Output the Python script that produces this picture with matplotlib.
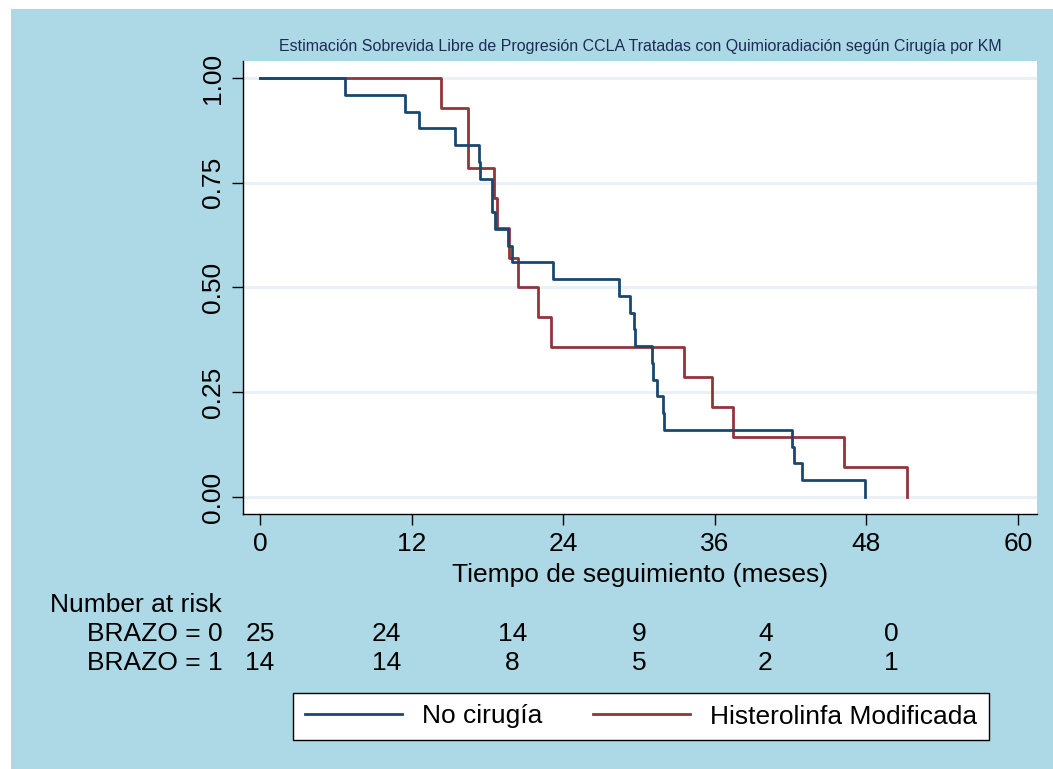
import matplotlib.pyplot as plt
from matplotlib.patches import Rectangle
from matplotlib.transforms import blended_transform_factory

plt.rcParams['font.family'] = ['Liberation Sans', 'DejaVu Sans']

# Curva KM: No cirugia (BRAZO = 0), tiempos en meses
t_no_cirugia = [0, 6.7, 11.5, 12.6, 15.4, 17.35, 17.45, 18.4, 18.4, 18.6, 19.65, 19.95,
                23.2, 28.4, 29.3, 29.6, 29.7, 31.0, 31.1, 31.4, 31.9, 32.0,
                42.1, 42.25, 42.9, 47.9]
s_no_cirugia = [1.00, 0.96, 0.92, 0.88, 0.84, 0.80, 0.76, 0.72, 0.68, 0.64, 0.60, 0.56,
                0.52, 0.48, 0.44, 0.40, 0.36, 0.32, 0.28, 0.24, 0.20, 0.16,
                0.12, 0.08, 0.04, 0.00]

# Curva KM: Histerolinfa Modificada (BRAZO = 1)
t_histero = [0, 14.3, 16.45, 16.5, 18.55, 18.8, 19.7, 20.4, 22.0, 23.0,
             33.55, 35.75, 37.45, 46.2, 51.2]
s_histero = [1.000, 0.929, 0.857, 0.786, 0.714, 0.643, 0.571, 0.500, 0.429, 0.357,
             0.286, 0.214, 0.143, 0.071, 0.000]

# Number at risk
risk_times = [0, 10, 20, 30, 40, 50]
risk_brazo0 = [25, 24, 14, 9, 4, 0]
risk_brazo1 = [14, 14, 8, 5, 2, 1]

x_ticks = [0, 12, 24, 36, 48, 60]
y_ticks = [0.0, 0.25, 0.5, 0.75, 1.0]

FS = 19
W, H = 1053, 769
fig = plt.figure(figsize=(W / 100, H / 100), dpi=100, facecolor='white')
fig.patches.append(Rectangle((11 / W, 0), 1 - 11 / W, 1 - 9 / H, transform=fig.transFigure,
                             facecolor='#add8e6', edgecolor='none', zorder=-10))

ax = fig.add_axes([243 / W, 1 - 514 / H, 794 / W, 453 / H])
ax.set_facecolor('white')

for y in y_ticks:
    ax.axhline(y, color='#eaf1f4', lw=2.2, zorder=1)

l0, = ax.plot(t_no_cirugia, s_no_cirugia, drawstyle='steps-post', color='#1a476f', lw=2, zorder=3)
l1, = ax.plot(t_histero, s_histero, drawstyle='steps-post', color='#90353b', lw=2, zorder=2)

ax.set_xlim(-1.34, 61.5)
ax.set_ylim(-0.0406, 1.0406)
ax.set_xticks(x_ticks)
ax.set_yticks(y_ticks)
ax.set_yticklabels(['%.2f' % v for v in y_ticks], rotation=90, va='center')
ax.tick_params(direction='out', length=8, width=1, labelsize=FS, pad=5)
for s in ['top', 'right']:
    ax.spines[s].set_visible(False)
for s in ['left', 'bottom']:
    ax.spines[s].set_linewidth(1)

ax.set_xlabel('Tiempo de seguimiento (meses)', fontsize=FS, labelpad=5)

fig.text(640 / W, 1 - 46.5 / H,
         'Estimación Sobrevida Libre de Progresión CCLA Tratadas con Quimioradiación según Cirugía por KM',
         ha='center', va='center', fontsize=11.5, color='#1c2d55')

# tabla de riesgo
tr = blended_transform_factory(ax.transData, fig.transFigure)
fig.text(50 / W, 1 - 605 / H, 'Number at risk', fontsize=FS, va='center', ha='left')
fig.text(87 / W, 1 - 634 / H, 'BRAZO = 0', fontsize=FS, va='center', ha='left')
fig.text(87 / W, 1 - 663 / H, 'BRAZO = 1', fontsize=FS, va='center', ha='left')
for t, n0, n1 in zip(risk_times, risk_brazo0, risk_brazo1):
    ax.text(t, 1 - 634 / H, str(n0), transform=tr, fontsize=FS, ha='center', va='center')
    ax.text(t, 1 - 663 / H, str(n1), transform=tr, fontsize=FS, ha='center', va='center')

leg = fig.legend([l0, l1], ['No cirugía', 'Histerolinfa Modificada'], loc='center',
                 bbox_to_anchor=(641 / W, 1 - 716.5 / H), ncol=2, fontsize=FS,
                 frameon=True, fancybox=False, edgecolor='black', framealpha=1,
                 handlelength=3.7, handletextpad=0.75, columnspacing=1.9, borderpad=0.45)
leg.get_frame().set_linewidth(1)

fig.savefig('out.png', dpi=100)
